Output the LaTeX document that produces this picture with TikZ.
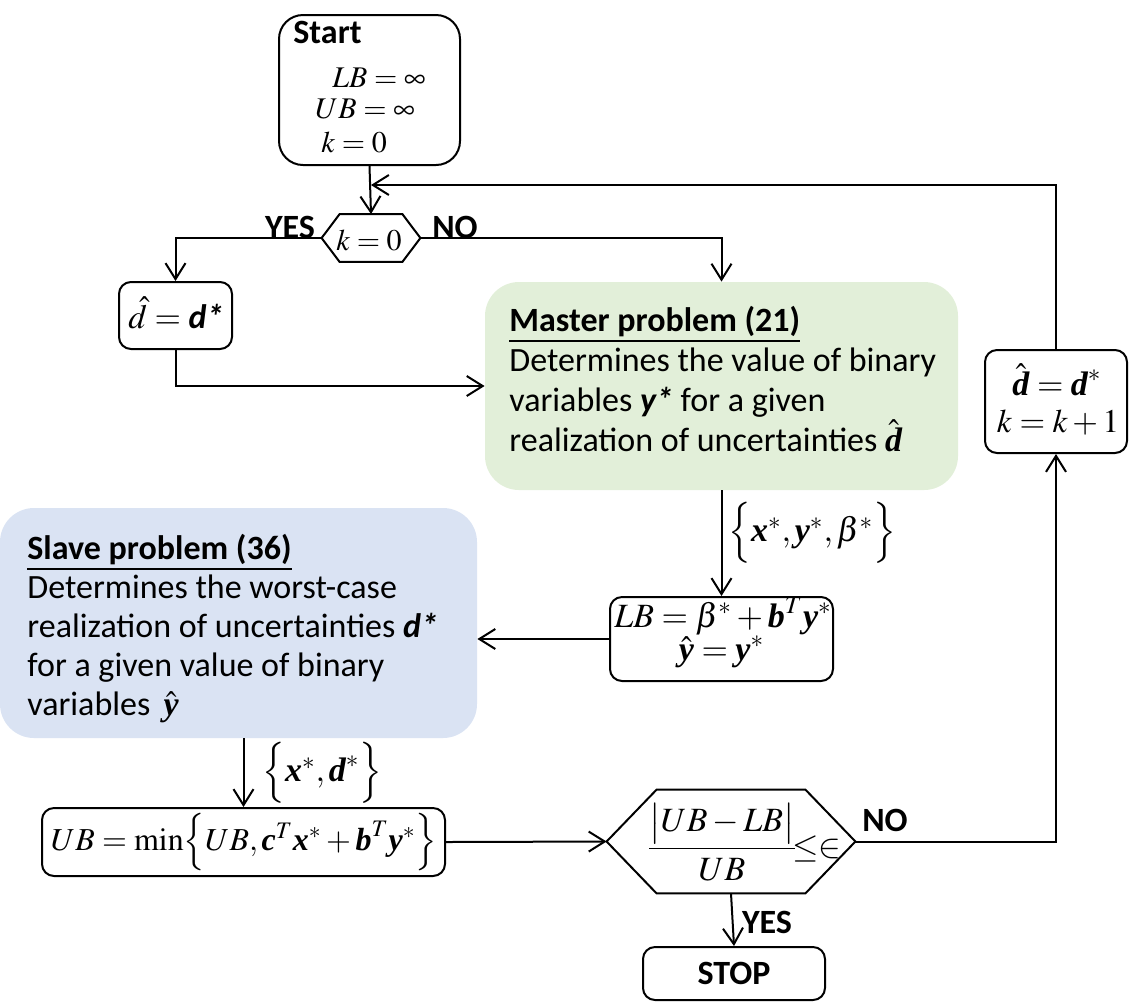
\documentclass[tikz,border=0pt]{standalone}
\usepackage{amsmath}
\usepackage{mathptmx}
\usepackage{fontspec}
\setmainfont{Carlito}
\newfontfamily\tnr{Liberation Serif}
\usetikzlibrary{arrows.meta,calc}
\newcommand\bv[1]{\text{\tnr\bfseries\itshape #1}}
\definecolor{mgreen}{HTML}{E2EFD9}
\definecolor{sblue}{HTML}{DAE3F3}
\begin{document}
\begin{tikzpicture}[x=0.5pt,y=-0.5pt,
  box/.style={draw, line width=1pt, rounded corners=6pt, inner sep=0pt},
  arr/.style={line width=1pt, -{Straight Barb[length=8pt,width=10pt]}},
  ln/.style={line width=1pt},
  lbl/.style={font=\fontsize{17}{20}\selectfont\bfseries, inner sep=0pt},
  txt/.style={font=\fontsize{17}{20}\selectfont, inner sep=0pt, anchor=base west},
  mth/.style={font=\fontsize{17}{20}\selectfont, inner sep=0pt},
  smth/.style={font=\fontsize{15}{18}\selectfont, inner sep=0pt}]
\useasboundingbox (0,0) rectangle (1129,1003);

% boxes
\node[box, rounded corners=12pt, minimum width=90.5pt, minimum height=75pt] (start) at (369.5,90) {};
\node[lbl, anchor=base west] at (293,43) {Start};
\node[smth, anchor=base west] at (332,87) {$LB=\infty$};
\node[smth, anchor=base west] at (315,118) {$UB=\infty$};
\node[smth, anchor=base west] at (321,152) {$k=0$};

\node[minimum width=49pt, minimum height=23.5pt, inner sep=0pt] (k0) at (371,238) {};
\node[smth] at (369,240) {$k=0$};
\draw[ln] (k0.west) -- ($(k0.north west)+(18,0)$) -- ($(k0.north east)+(-18,0)$) -- (k0.east)
  -- ($(k0.south east)+(-18,0)$) -- ($(k0.south west)+(18,0)$) -- cycle;

\node[box, minimum width=56.5pt, minimum height=33.5pt] (dhat) at (175.5,315.5) {};
\node[mth, anchor=base] at (176,328) {$\hat{d}=\text{\bfseries\itshape d*}$};

\node[fill=mgreen, rounded corners=17pt, minimum width=236.5pt, minimum height=104pt, inner sep=0pt] (master) at (721.5,386) {};
\node[txt, font=\fontsize{17}{20}\selectfont\bfseries] at (509,331) {\underline{Master problem (21)}};
\node[txt] at (509,371) {Determines the value of binary};
\node[txt] at (509,411) {variables \textbf{\textit{y*}} for a given};
\node[txt] at (509,451) {realization of uncertainties $\hat{\bv{d}}$};

\node[box, minimum width=71pt, minimum height=51.5pt] (kb) at (1056,401.5) {};
\node[mth, anchor=base] at (1057,395) {$\hat{\bv{d}}=\bv{d}^{*}$};
\node[mth, font=\fontsize{16.5}{20}\selectfont, anchor=base] at (1058,432) {$k=k+1$};

\node[box, minimum width=111.5pt, minimum height=42pt] (lb) at (721.5,639) {};
\node[mth, anchor=base] at (723,627) {$LB=\beta^{*}+\bv{b}^{T}\bv{y}^{*}$};
\node[mth, anchor=base] at (721.5,660) {$\hat{\bv{y}}=\bv{y}^{*}$};

\node[fill=sblue, rounded corners=17pt, minimum width=238.5pt, minimum height=115pt, inner sep=0pt] (slave) at (238.5,623) {};
\node[txt, font=\fontsize{17}{20}\selectfont\bfseries] at (27,559) {\underline{Slave problem (36)}};
\node[txt] at (27,598) {Determines the worst-case};
\node[txt] at (27,637) {realization of uncertainties \textbf{\textit{d*}}};
\node[txt] at (27,676) {for a given value of binary};
\node[txt] at (27,715) {variables \,$\hat{\bv{y}}$};

\node[box, minimum width=201.5pt, minimum height=34pt] (ub) at (243.5,842) {};
\node[mth, font=\fontsize{16}{20}\selectfont] at (244,842) {$UB=\min\Bigl\{UB,\bv{c}^{T}\bv{x}^{*}+\bv{b}^{T}\bv{y}^{*}\Bigr\}$};

\node[minimum width=124pt, minimum height=51.5pt, inner sep=0pt] (conv) at (731,841.5) {};
\draw[ln] (conv.west) -- ($(conv.north west)+(50,0)$) -- ($(conv.north east)+(-50,0)$) -- (conv.east)
  -- ($(conv.south east)+(-50,0)$) -- ($(conv.south west)+(50,0)$) -- cycle;
\node[mth, anchor=center] at (722,842) {$\dfrac{\bigl|UB-LB\bigr|}{UB}$};
\node[mth, anchor=base west] at (792,857) {$\le\in$};

\node[box, minimum width=91pt, minimum height=26.5pt, font=\fontsize{17}{20}\selectfont\bfseries] (stop) at (734,973.5) {STOP};

% connectors
\coordinate (j) at (371,185);
\draw[arr] (start.south) -- (k0.north);
\draw[arr] (k0.west) -| (dhat.north);
\draw[arr] (k0.east) -| (master.north);
\draw[arr] (dhat.south) |- (master.west);
\draw[arr] (master.south) -- (lb.north);
\draw[arr] (lb.west) -- (slave.east |- lb.west);
\draw[arr] (slave.south -| ub.north) -- (ub.north);
\draw[arr] (ub.east) -- (conv.west);
\draw[arr] (conv.east) -| (kb.south);
\draw[arr] (kb.north) |- (j);
\draw[arr] (conv.south) -- (stop.north);

% labels
\node[lbl] at (290,227) {YES};
\node[lbl] at (455,227) {NO};
\node[lbl] at (885,820) {NO};
\node[lbl] at (767,922) {YES};
\node[mth, anchor=west] at (728,533) {$\Bigl\{\bv{x}^{*},\bv{y}^{*},\beta^{*}\Bigr\}$};
\node[mth, anchor=west] at (262,773) {$\Bigl\{\bv{x}^{*},\bv{d}^{*}\Bigr\}$};
\end{tikzpicture}
\end{document}
